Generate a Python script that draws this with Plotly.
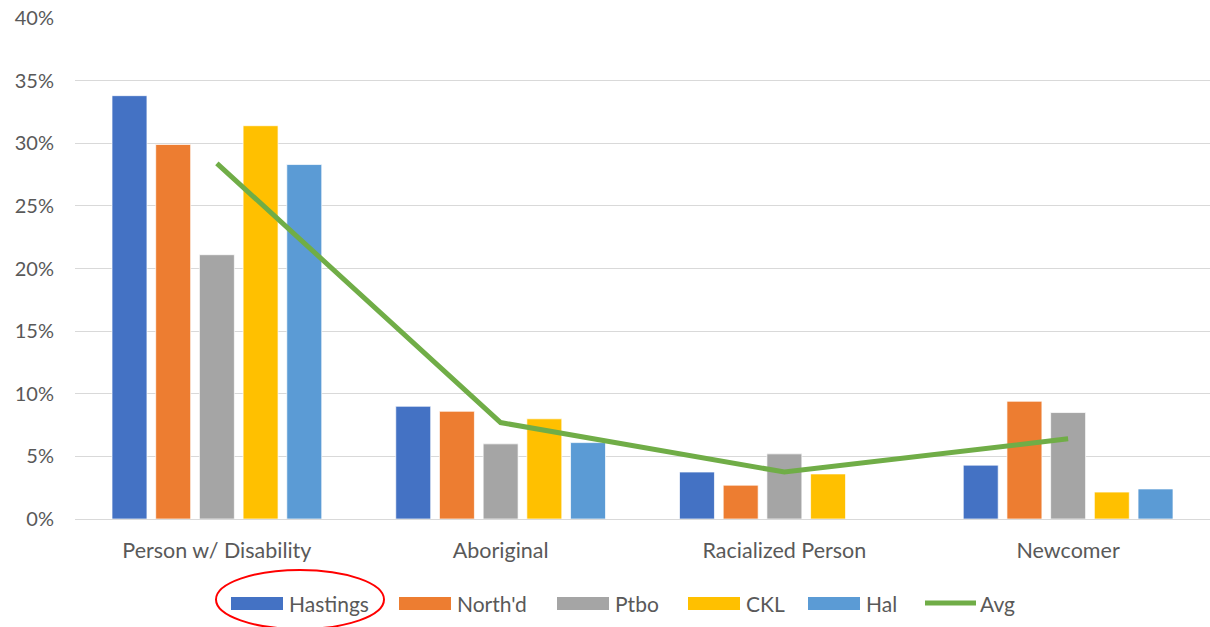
import plotly.graph_objects as go

categories = ["Person w/ Disability", "Aboriginal", "Racialized Person", "Newcomer"]

hastings = [33.8, 9.0, 3.75, 4.3]
northd = [29.9, 8.6, 2.7, 9.4]
ptbo = [21.1, 6.0, 5.2, 8.5]
ckl = [31.4, 8.0, 3.6, 2.15]
hal = [28.3, 6.1, None, 2.4]
avg = [28.4, 7.7, 3.75, 6.4]

series_names = ["Hastings", "North'd", "Ptbo", "CKL", "Hal"]
series_values = [hastings, northd, ptbo, ckl, hal]
series_colors = ["#4472C4", "#ED7D31", "#A5A5A5", "#FFC000", "#5B9BD5"]
avg_color = "#70AD47"

FONT = "Lato"
TEXT = "#595959"

W, H = 1210, 627
L, R, T, B = 75, 0, 18, 108
pw, ph = W - L - R, H - T - B


def px_x(p):
    return (p - L) / pw


def px_y(p):
    return (H - B - p) / ph


fig = go.Figure()
for name, vals, color in zip(series_names, series_values, series_colors):
    fig.add_trace(go.Bar(
        x=categories, y=[v / 100 if v is not None else None for v in vals],
        name=name, showlegend=False,
        marker=dict(color=color, line=dict(color="rgba(255,255,255,0.7)", width=1)),
    ))

fig.add_trace(go.Scatter(
    x=categories, y=[v / 100 for v in avg], name="Avg", mode="lines",
    showlegend=False, line=dict(color=avg_color, width=5),
))

# Legend row: colour swatches followed by their labels
legend_y = 603
swatch_x = [231, 399, 557, 688, 808]
swatch_w = 52
shapes = []
annotations = []
for name, color, x0 in zip(series_names, series_colors, swatch_x):
    shapes.append(dict(
        type="rect", xref="paper", yref="paper",
        x0=px_x(x0), x1=px_x(x0 + swatch_w), y0=px_y(legend_y + 7), y1=px_y(legend_y - 6),
        fillcolor=color, line=dict(width=0),
    ))
    annotations.append(dict(
        text=name, xref="paper", yref="paper", x=px_x(x0 + swatch_w + 4), y=px_y(legend_y),
        xanchor="left", yanchor="middle", showarrow=False,
        font=dict(family=FONT, size=21, color=TEXT),
    ))
shapes.append(dict(
    type="line", xref="paper", yref="paper",
    x0=px_x(925), x1=px_x(976), y0=px_y(legend_y), y1=px_y(legend_y),
    line=dict(color=avg_color, width=5),
))
annotations.append(dict(
    text="Avg", xref="paper", yref="paper", x=px_x(978), y=px_y(legend_y),
    xanchor="left", yanchor="middle", showarrow=False,
    font=dict(family=FONT, size=21, color=TEXT),
))

# Red ellipse around the Hastings legend entry
shapes.append(dict(
    type="circle", xref="paper", yref="paper",
    x0=px_x(216), x1=px_x(384), y0=px_y(570), y1=px_y(629),
    line=dict(color="#FF0000", width=2),
))

fig.update_layout(
    width=W, height=H,
    margin=dict(l=L, r=R, t=T, b=B),
    paper_bgcolor="white", plot_bgcolor="white",
    barmode="group", bargap=0.23, bargroupgap=0.2,
    font=dict(family=FONT, size=20, color=TEXT),
    showlegend=False,
    shapes=shapes,
    annotations=annotations,
    xaxis=dict(
        showgrid=False, showline=True, linecolor="#D9D9D9", linewidth=1,
        ticks="outside", ticklen=0, ticklabelstandoff=12,
        tickfont=dict(family=FONT, size=21.5, color=TEXT),
    ),
    yaxis=dict(
        range=[0, 0.40], dtick=0.05, tickformat=".0%",
        showgrid=True, gridcolor="#D9D9D9", gridwidth=1,
        zeroline=False, showline=False,
        ticklabelstandoff=20,
        tickfont=dict(family=FONT, size=20, color=TEXT),
    ),
)

fig.write_html("out.html")
